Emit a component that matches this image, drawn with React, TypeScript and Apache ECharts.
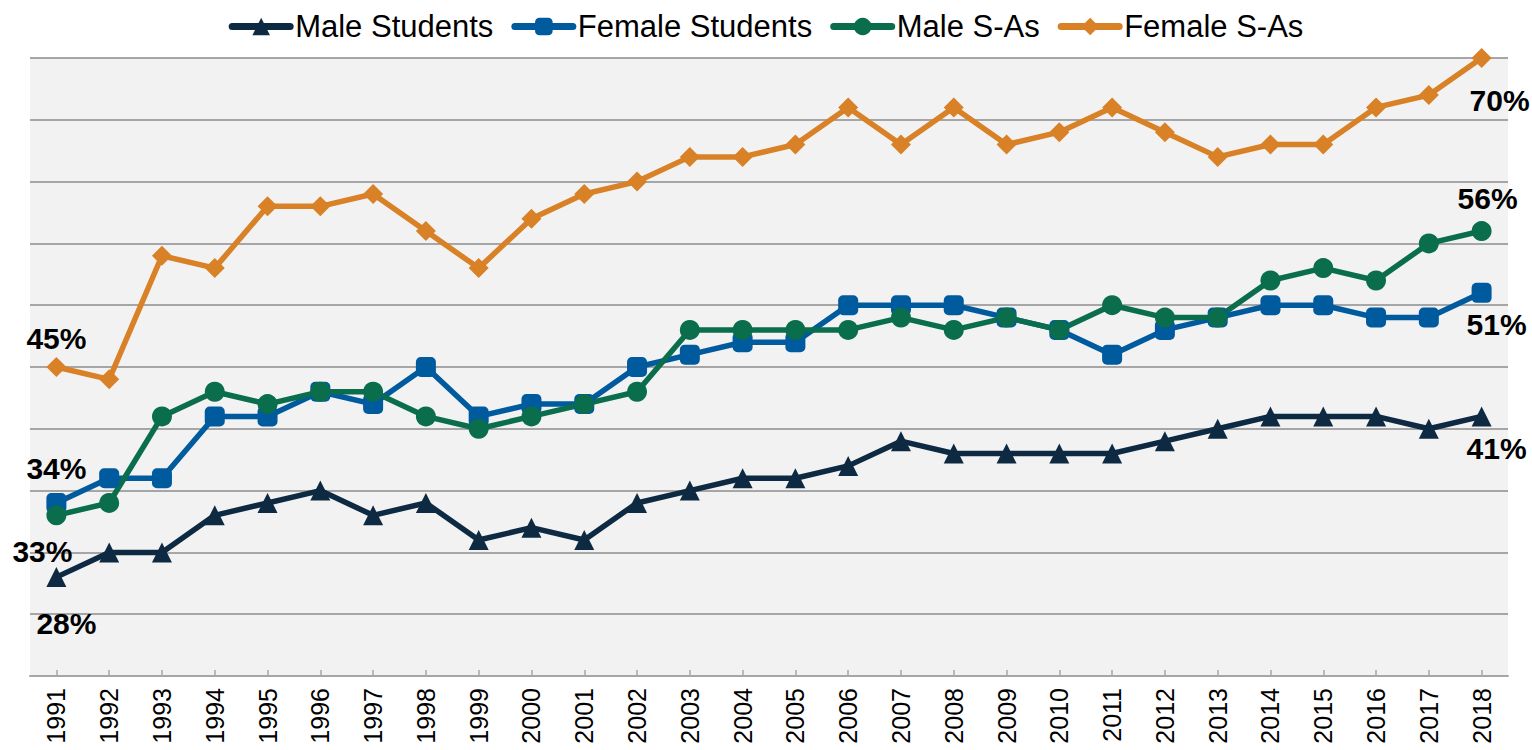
import React, { useEffect, useRef } from "react";
import * as echarts from "echarts";

const years = ["1991","1992","1993","1994","1995","1996","1997","1998","1999","2000","2001","2002","2003","2004","2005","2006","2007","2008","2009","2010","2011","2012","2013","2014","2015","2016","2017","2018"];
const maleStudents = [28,30,30,33,34,35,33,34,31,32,31,34,35,36,36,37,39,38,38,38,38,39,40,41,41,41,40,41];
const femaleStudents = [34,36,36,41,41,43,42,45,41,42,42,45,46,47,47,50,50,50,49,48,46,48,49,50,50,49,49,51];
const maleSAs = [33,34,41,43,42,43,43,41,40,41,42,43,48,48,48,48,49,48,49,48,50,49,49,52,53,52,55,56];
const femaleSAs = [45,44,54,53,58,58,59,56,53,57,59,60,62,62,63,66,63,66,63,64,66,64,62,63,63,66,67,70];

const labelStyle = { fontFamily: "Arial, 'Liberation Sans', sans-serif", fontWeight: "bold" as const, fontSize: 30, color: "#000" };

function withLabels(values: number[], first: number[], last: number[]) {
  return values.map((v, i) => {
    if (i === 0) return { value: v, label: { show: true, position: "inside", offset: first, formatter: "{c}%", ...labelStyle } };
    if (i === values.length - 1) return { value: v, label: { show: true, position: "inside", offset: last, formatter: "{c}%", ...labelStyle } };
    return v;
  });
}

export default function App() {
  const ref = useRef<HTMLDivElement>(null);
  useEffect(() => {
    const chart = echarts.init(ref.current!, null, { renderer: "svg" });
    const mk = (name: string, color: string, symbol: string, data: any[]) => ({
      name,
      type: "line",
      data,
      symbol,
      symbolSize: 20,
      showAllSymbol: true,
      lineStyle: { color, width: 5.5 },
      itemStyle: { color },
      label: { show: false },
      emphasis: { disabled: true },
    });
    chart.setOption({
      animation: false,
      legend: {
        top: 6,
        left: "center",
        itemWidth: 58,
        itemHeight: 22,
        itemGap: 18,
        lineStyle: { width: 7, cap: "round" },
        textStyle: { fontFamily: "Arial, 'Liberation Sans', sans-serif", fontSize: 31, color: "#000" },
        data: ["Male Students", "Female Students", "Male S-As", "Female S-As"],
      },
      grid: { left: 30, right: 24, top: 58, bottom: 74, show: true, backgroundColor: "#f2f2f2", borderWidth: 0 },
      xAxis: {
        type: "category",
        data: years,
        boundaryGap: true,
        axisLine: { lineStyle: { color: "#a6a6a6", width: 2 } },
        axisTick: { show: true, inside: true, alignWithLabel: true, length: 6, lineStyle: { color: "#a6a6a6", width: 1.5 } },
        axisLabel: { rotate: 90, fontSize: 25, color: "#000", fontFamily: "Arial, 'Liberation Sans', sans-serif", margin: 12, interval: 0 },
      },
      yAxis: {
        type: "value",
        min: 20,
        max: 70,
        interval: 5,
        axisLabel: { show: false },
        axisLine: { show: false },
        axisTick: { show: false },
        splitLine: { lineStyle: { color: "#a6a6a6", width: 2 } },
      },
      series: [
        mk("Male Students", "#0e2a42", "triangle", withLabels(maleStudents, [10, 46], [15, 32])),
        mk("Female Students", "#005a9e", "roundRect", withLabels(femaleStudents, [0, -34], [15, 32])),
        mk("Male S-As", "#0a6e4c", "circle", withLabels(maleSAs, [-14, 36], [6, -33])),
        mk("Female S-As", "#d88126", "diamond", withLabels(femaleSAs, [0, -29], [18, 42])),
      ],
    });
    return () => chart.dispose();
  }, []);
  return <div ref={ref} style={{ width: 1532, height: 750, position: "absolute", left: 0, top: 0 }} />;
}
